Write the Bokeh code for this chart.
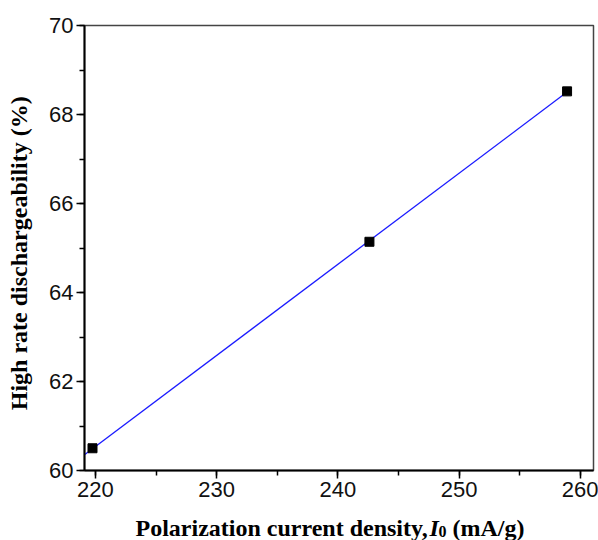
import numpy as np
from bokeh.plotting import figure
from bokeh.models import Range1d, SingleIntervalTicker, Label
from bokeh.layouts import column, row
from bokeh.embed import file_html
from bokeh.resources import INLINE

# Measured polarization current density (mA/g) vs. high rate dischargeability (%)
current_density = [219.76, 242.6, 258.9]
hrd = [60.50, 65.14, 68.52]

# span over which the linear fit is drawn
fit_span = [219.1, 259.2]

x_ticks_interval = 10
y_ticks_interval = 2

slope, intercept = np.polyfit(current_density, hrd, 1)
fit_x = np.array(fit_span)
fit_y = slope * fit_x + intercept

LABEL_FONT = "Liberation Serif, Times New Roman, serif"
TICK_FONT = "Liberation Sans, Arial, sans-serif"
TITLE_SIZE = "24px"

TOTAL_W, TOTAL_H = 598, 540
STRIP_W = 40          # left strip holding the y-axis title
BOTTOM_H = 30         # bottom strip holding the x-axis title
MAIN_H = TOTAL_H - BOTTOM_H


def blank_strip(w, h):
    """A bare figure whose frame fills its canvas, used for axis titles."""
    f = figure(width=w, height=h, output_backend="svg", toolbar_location=None,
               title=None,
               x_range=Range1d(0, w), y_range=Range1d(0, h),
               x_axis_location=None, y_axis_location=None,
               min_border=0, min_border_left=0, min_border_right=0,
               min_border_top=0, min_border_bottom=0)
    f.outline_line_color = None
    f.grid.visible = False
    f.background_fill_color = "white"
    f.border_fill_color = "white"
    return f


# main plot
p = figure(width=TOTAL_W - STRIP_W, height=MAIN_H, output_backend="svg", toolbar_location=None,
           title=None,
           x_range=Range1d(219.1, 261.08), y_range=Range1d(60, 70),
           min_border_left=84 - STRIP_W, min_border_right=5, min_border_top=25,
           min_border_bottom=MAIN_H - 470)
p.background_fill_color = "white"
p.border_fill_color = "white"
p.grid.visible = False
p.outline_line_color = "#444444"
p.outline_line_width = 1.5

p.line(fit_x, fit_y, line_color="#1a1aff", line_width=1.3)
p.scatter(current_density, hrd, marker="square", size=9, fill_color="black", line_color="black")

for ax, interval in ((p.xaxis[0], x_ticks_interval), (p.yaxis[0], y_ticks_interval)):
    ax.ticker = SingleIntervalTicker(interval=interval, num_minor_ticks=2)
    ax.axis_line_color = "black"
    ax.axis_line_width = 2
    ax.major_tick_line_color = "black"
    ax.major_tick_line_width = 1.5
    ax.minor_tick_line_color = "black"
    ax.minor_tick_line_width = 1.5
    ax.major_tick_in = 0
    ax.major_tick_out = 8
    ax.minor_tick_in = 0
    ax.minor_tick_out = 5
    ax.major_label_text_font = TICK_FONT
    ax.major_label_text_font_size = "22px"
    ax.major_label_text_color = "#111111"
    ax.major_label_standoff = 3

# y-axis title strip
left = blank_strip(STRIP_W, MAIN_H)
left.add_layout(Label(x=18, y=MAIN_H - 261, text="High rate dischargeability (%)",
                      angle=np.pi / 2, text_font=LABEL_FONT, text_font_style="bold",
                      text_font_size=TITLE_SIZE, text_color="black",
                      text_align="center", text_baseline="middle"))

# x-axis title strip, composed so the current symbol is italic with a subscript
bottom = blank_strip(TOTAL_W, BOTTOM_H)
baseline = 13
parts = [
    ("Polarization current density,", 135, baseline, "bold", TITLE_SIZE),
    ("I", 429, baseline, "bold italic", TITLE_SIZE),
    ("0", 438, baseline - 4, "bold", "16px"),
    ("(mA/g)", 452, baseline, "bold", TITLE_SIZE),
]
for txt, x, y, style, fs in parts:
    bottom.add_layout(Label(x=x, y=y, text=txt, text_font=LABEL_FONT,
                            text_font_style=style, text_font_size=fs, text_color="black",
                            text_align="left", text_baseline="alphabetic"))

layout = column(row(left, p, spacing=0), bottom, spacing=0)

open("out.html", "w").write(file_html(layout, INLINE))
